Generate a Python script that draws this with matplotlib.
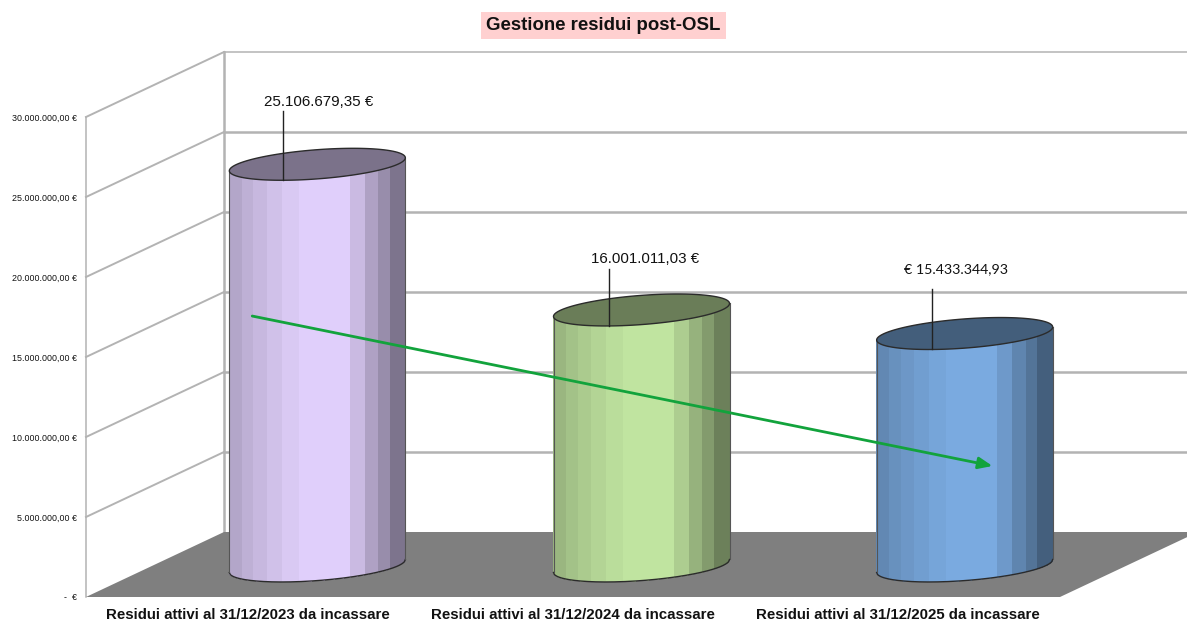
import matplotlib
matplotlib.use('Agg')
import matplotlib.pyplot as plt
import numpy as np

categories = ['Residui attivi al 31/12/2023 da incassare',
              'Residui attivi al 31/12/2024 da incassare',
              'Residui attivi al 31/12/2025 da incassare']
# heights as drawn in the picture (the third one is lower than its label says)
bar_values = [25106679.35, 16001011.03, 14530000.0]
bar_labels = ['25.106.679,35 €', '16.001.011,03 €', '€ 15.433.344,93']
bar_colors = [(224, 207, 251), (192, 228, 160), (122, 170, 224)]
y_ticks = [0, 5e6, 10e6, 15e6, 20e6, 25e6, 30e6]
y_tick_labels = ['-  €', '5.000.000,00 €', '10.000.000,00 €', '15.000.000,00 €',
                 '20.000.000,00 €', '25.000.000,00 €', '30.000.000,00 €']
trend_x = [0.012, 2.292]
trend_y = [17560000, 8190000]

plt.rcParams['font.family'] = ['Liberation Sans', 'DejaVu Sans']

W, H = 1187, 621
fig = plt.figure(figsize=(W / 100, H / 100), dpi=100)
ax = fig.add_axes([86 / W, (H - 597) / H, 974 / W, 480 / H])
ax.set_xlim(-0.5, 2.5)
ax.set_ylim(0, 30e6)
for s in ax.spines.values():
    s.set_visible(False)

PX_X = 3 / 974     # one pixel in category units
PX_Y = 30e6 / 480  # one pixel in euro
DEPTH_X = 138 * PX_X
DEPTH_Y = 65 * PX_Y
BAR_DEPTH_X = 0.5
BAR_DEPTH_Y = 0.477
BAR_SHIFT = [0, -0.5 * PX_X, -2 * PX_X]  # bars are not quite evenly spaced

ax.set_xticks(range(3), categories, fontsize=10.8, fontweight='bold', color='#111111')
ax.set_yticks(y_ticks, y_tick_labels, fontsize=6.4, color='#111111')
ax.tick_params(axis='both', length=0)
ax.tick_params(axis='y', pad=6.6)
ax.tick_params(axis='x', pad=8)

GRID = '#b3b3b3'
x_l, x_r = -0.5, 2.5

# walls
ax.plot([x_l, x_l], [0, 30e6], color=GRID, lw=1.1, clip_on=False, zorder=1)
ax.plot([x_l + DEPTH_X] * 2, [DEPTH_Y, 30e6 + DEPTH_Y], color=GRID, lw=1.8, clip_on=False, zorder=1)
for v in y_ticks[1:]:
    back_lw = 1.1 if v == y_ticks[-1] else 1.8
    ax.plot([x_l, x_l + DEPTH_X], [v, v + DEPTH_Y], color=GRID, lw=1.4, clip_on=False, zorder=1)
    ax.plot([x_l + DEPTH_X, x_r + DEPTH_X], [v + DEPTH_Y] * 2, color=GRID, lw=back_lw, clip_on=False, zorder=1)

# floor
ax.fill([x_l, x_r, x_r + DEPTH_X, x_l + DEPTH_X], [0, 0, DEPTH_Y, DEPTH_Y],
        color='#7f7f7f', lw=0, clip_on=False, zorder=2)

band_edges = np.array([0, .075, .14, .217, .302, .396, .689, .774, .849, .915, 1])
band_shade = [.80, .85, .89, .93, .97, 1.0, .90, .78, .68, .56]

half_w = 88 * PX_X
ell_b = 14.6 * PX_Y
ell_shear = 6.5 * PX_Y


def arc(cx, cy, u):
    ''' lower edge of the tilted ellipse, u goes from -1 (left) to 1 (right) '''
    return cx + half_w * u, cy - ell_b * np.sqrt(1 - u ** 2) + ell_shear * u


for i, val in enumerate(bar_values):
    base = np.array(bar_colors[i]) / 255
    cx = i + BAR_DEPTH_X * DEPTH_X + BAR_SHIFT[i]
    y0 = BAR_DEPTH_Y * DEPTH_Y
    y1 = y0 + val

    # body as vertical strips, which gives the banded shading
    for k, shade in enumerate(band_shade):
        u = np.linspace(band_edges[k] * 2 - 1, band_edges[k + 1] * 2 - 1, 25)
        xs, ys_b = arc(cx, y0, u)
        _, ys_t = arc(cx, y1, u)
        ax.fill(np.r_[xs, xs[::-1]], np.r_[ys_b, ys_t[::-1]], facecolor=base * shade,
                edgecolor='none', lw=0, antialiased=False, clip_on=False, zorder=3)

    u = np.linspace(-1, 1, 200)
    xs, ys_b = arc(cx, y0, u)
    ax.plot(xs, ys_b, color='#2b2b2b', lw=1, clip_on=False, zorder=4)
    ax.plot([cx - half_w] * 2, [y0 - ell_shear, y1 - ell_shear], color='#555555', lw=0.8, zorder=4)
    ax.plot([cx + half_w] * 2, [y0 + ell_shear, y1 + ell_shear], color='#555555', lw=0.8, zorder=4)

    # top cap
    t = np.linspace(0, 2 * np.pi, 200)
    ax.fill(cx + half_w * np.cos(t), y1 + ell_b * np.sin(t) + ell_shear * np.cos(t),
            facecolor=base * .55, edgecolor='#2b2b2b', lw=1, clip_on=False, zorder=4)

# trend arrow
ax.annotate('', xy=(trend_x[1], trend_y[1]), xytext=(trend_x[0], trend_y[0]), zorder=5,
            arrowprops=dict(arrowstyle='-|>,head_length=0.6,head_width=0.25', color='#12a33c',
                            lw=2, shrinkA=0, shrinkB=0, mutation_scale=14))

# leader lines and value labels
leader_dx = [-34, -33, -33]
leader_rise = [69, 57, 60]
label_dx = [35, 37, 24]
label_up = [9.5, 10, 20]
label_fonts = ['Liberation Sans', 'Liberation Sans', 'Lato']
label_sizes = [10.9, 10.9, 10.2]
for i, val in enumerate(bar_values):
    cx = i + BAR_DEPTH_X * DEPTH_X + BAR_SHIFT[i]
    y1 = BAR_DEPTH_Y * DEPTH_Y + val
    lx, ly = arc(cx, y1, leader_dx[i] / 88)
    top = ly + leader_rise[i] * PX_Y
    ax.plot([lx, lx], [ly, top], color='#222222', lw=1, clip_on=False, zorder=6)
    ax.text(lx + label_dx[i] * PX_X, top + label_up[i] * PX_Y, bar_labels[i], ha='center', va='center',
            fontsize=label_sizes[i], color='#111111', family=label_fonts[i], zorder=6)

fig.text(603.5 / W, 1 - 25.5 / H, 'Gestione residui post-OSL', ha='center', va='center',
         fontsize=13.4, fontweight='bold', color='#111111',
         bbox=dict(facecolor='#ffd0d0', edgecolor='none', pad=3.5))

fig.savefig('out.png', dpi=100)
